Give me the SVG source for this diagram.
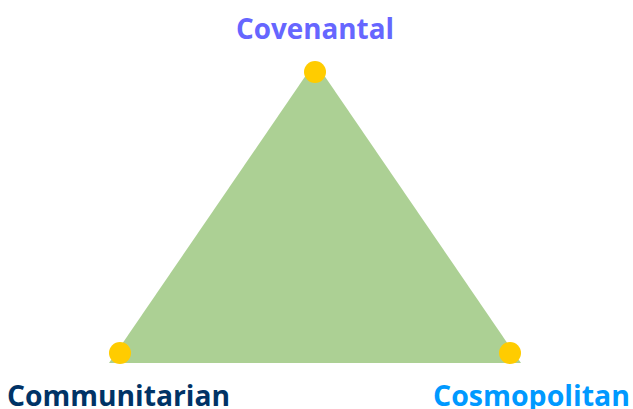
<svg xmlns="http://www.w3.org/2000/svg" width="633" height="409" viewBox="0 0 633 409">
<style>
.lbl{font-family:"Open Sans","Noto Sans",sans-serif;font-weight:bold;font-size:29px}
.dot{fill:#ffcc00}
</style>
<rect width="633" height="409" fill="#ffffff"/>
<g id="triangle"><polygon points="315,62 109,363 521,363" fill="#acd094"/></g>
<g id="connectors"></g>
<g id="covenantal"><circle class="dot" cx="315" cy="72" r="11"/><text class="lbl" x="236" y="39" fill="#6666ff" textLength="158" lengthAdjust="spacingAndGlyphs">Covenantal</text></g>
<g id="communitarian"><circle class="dot" cx="120" cy="353" r="11"/><text class="lbl" x="7" y="406" fill="#003366" textLength="223" lengthAdjust="spacingAndGlyphs">Communitarian</text></g>
<g id="cosmopolitan"><circle class="dot" cx="510" cy="353" r="11"/><text class="lbl" x="433" y="406" fill="#0099ff" textLength="197" lengthAdjust="spacingAndGlyphs">Cosmopolitan</text></g>
</svg>
